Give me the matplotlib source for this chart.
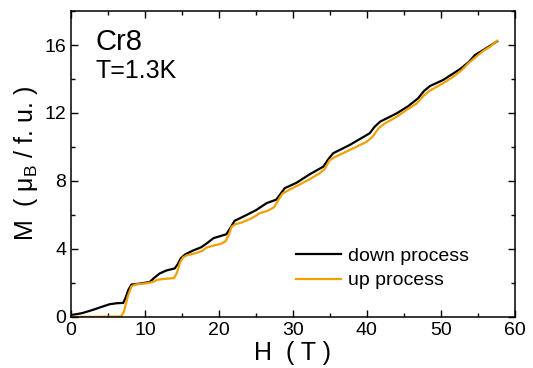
import matplotlib
matplotlib.use('Agg')
import matplotlib.pyplot as plt
from matplotlib.ticker import MultipleLocator

plt.rcParams['font.family'] = ['Liberation Sans', 'DejaVu Sans']
plt.rcParams['mathtext.fontset'] = 'custom'
plt.rcParams['mathtext.rm'] = 'Liberation Sans'
plt.rcParams['mathtext.it'] = 'Liberation Sans'

# данные: поле H (T) и намагниченность M (mu_B / f.u.)
h_down = [0, 1.54, 2.97, 4.1, 5.22, 6.15, 7.07, 7.37, 7.78, 8.19, 9.22, 10.65,
          11.27, 11.98, 12.91, 14.03, 14.44, 14.85, 15.47, 16.49, 17.62, 18.44,
          19.26, 21.0, 21.51, 22.12, 23.76, 25.1, 26.43, 27.76, 28.27, 28.89,
          30.52, 32.27, 34.11, 34.83, 35.44, 37.69, 40.36, 41.07, 41.79, 44.04,
          45.58, 46.91, 47.73, 48.55, 50.29, 52.55, 53.78, 54.6, 55.72, 56.64, 57.6]
m_down = [0.1, 0.22, 0.41, 0.58, 0.74, 0.8, 0.82, 1.1, 1.6, 1.9, 1.95, 2.05, 2.3,
          2.55, 2.73, 2.85, 3.1, 3.45, 3.68, 3.9, 4.1, 4.35, 4.63, 4.86, 5.2, 5.65,
          6.0, 6.3, 6.69, 6.9, 7.2, 7.57, 7.9, 8.39, 8.84, 9.3, 9.63, 10.12, 10.8,
          11.2, 11.49, 11.98, 12.4, 12.86, 13.3, 13.59, 13.94, 14.57, 15.0, 15.41,
          15.7, 15.95, 16.22]

h_up = [0, 3.07, 6.76, 7.17, 7.68, 8.19, 8.71, 10.24, 11.06, 11.68, 12.5, 13.93,
        14.34, 14.75, 15.16, 15.67, 16.9, 17.72, 18.33, 19.05, 20.28, 20.9, 21.31,
        21.72, 22.23, 23.05, 24.17, 24.89, 25.51, 26.63, 27.45, 28.07, 28.58,
        29.6, 30.73, 32.27, 33.6, 34.31, 34.93, 35.65, 36.87, 38.62, 39.95, 40.77,
        41.59, 42.3, 44.04, 45.58, 46.71, 47.63, 48.45, 50.29, 51.73, 52.75,
        53.78, 54.6, 55.72, 56.64, 57.6]
m_up = [0, 0, 0.02, 0.3, 1.2, 1.8, 1.9, 1.98, 2.05, 2.18, 2.23, 2.28, 2.6, 3.2,
        3.5, 3.62, 3.75, 3.88, 4.08, 4.17, 4.3, 4.45, 4.8, 5.3, 5.45, 5.55, 5.75,
        5.92, 6.1, 6.25, 6.45, 6.9, 7.25, 7.5, 7.75, 8.1, 8.45, 8.7, 9.2, 9.4,
        9.65, 10.02, 10.3, 10.6, 11.1, 11.35, 11.78, 12.25, 12.55, 13.0, 13.3,
        13.75, 14.15, 14.5, 14.95, 15.25, 15.65, 15.9, 16.25]

fig = plt.figure(figsize=(5.33, 3.68), dpi=100)
ax = fig.add_axes([0.133, 0.139, 0.833, 0.831])

ax.plot(h_down, m_down, color='black', lw=1.6, label='down process')
ax.plot(h_up, m_up, color='#f0a000', lw=1.6, label='up process')

ax.set_xlim(0, 60)
ax.set_ylim(0, 18)
ax.xaxis.set_major_locator(MultipleLocator(10))
ax.xaxis.set_minor_locator(MultipleLocator(5))
ax.yaxis.set_major_locator(MultipleLocator(4))
ax.yaxis.set_minor_locator(MultipleLocator(2))
ax.tick_params(which='both', direction='in', top=True, right=True, width=1, labelsize=14)
ax.tick_params(which='major', length=5)
ax.tick_params(which='minor', length=3)
for s in ax.spines.values():
    s.set_linewidth(1.1)

ax.set_xlabel('H  ( T )', fontsize=18, labelpad=2)
ax.set_ylabel(r'M  ( $\mu_\mathregular{B}$ / f. u. )', fontsize=18, labelpad=3)

ax.text(0.055, 0.873, 'Cr8', transform=ax.transAxes, fontsize=21)
ax.text(0.055, 0.782, 'T=1.3K', transform=ax.transAxes, fontsize=18)

ax.legend(loc='upper left', bbox_to_anchor=(0.508, 0.228), frameon=False,
          fontsize=14, handlelength=2.3, handletextpad=0.35, borderpad=0,
          borderaxespad=0, labelspacing=0.36)

plt.savefig('out.png', dpi=100)
